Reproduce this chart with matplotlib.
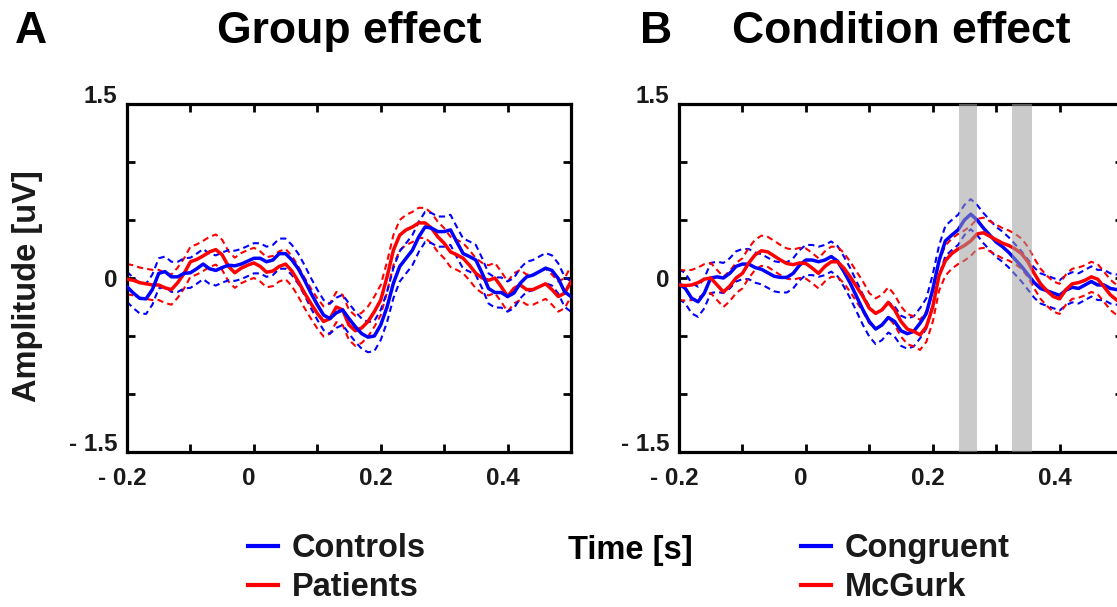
import numpy as np
import matplotlib.pyplot as plt
from matplotlib.transforms import ScaledTranslation

plt.rcParams['font.family'] = ['Liberation Sans', 'DejaVu Sans']
plt.rcParams['font.weight'] = 'bold'

# sample grid of the ERP curves (s)
time = np.linspace(-0.2, 0.5, 71)

# panel A: group effect (mean amplitude, uV)
controls = [-0.075, -0.13, -0.175, -0.18, -0.10, 0.04, 0.055, 0.01, 0.01, 0.04,
            0.045, 0.08, 0.12, 0.08, 0.065, 0.09, 0.11, 0.105, 0.12, 0.145,
            0.17, 0.17, 0.14, 0.155, 0.21, 0.21, 0.155, 0.08, -0.02, -0.13,
            -0.23, -0.32, -0.35, -0.30, -0.275, -0.35, -0.42, -0.48, -0.51, -0.50,
            -0.405, -0.25, -0.045, 0.10, 0.17, 0.24, 0.355, 0.44, 0.43, 0.40,
            0.40, 0.415, 0.31, 0.21, 0.185, 0.155, 0.04, -0.09, -0.125, -0.125,
            -0.16, -0.13, -0.045, 0.01, 0.025, 0.055, 0.085, 0.065, -0.005, -0.12,
            -0.16]
patients = [-0.01, -0.02, -0.04, -0.05, -0.06, -0.06, -0.085, -0.10, -0.04, 0.04,
            0.14, 0.16, 0.19, 0.225, 0.245, 0.20, 0.10, 0.045, 0.085, 0.11,
            0.13, 0.10, 0.05, 0.06, 0.10, 0.12, 0.06, -0.03, -0.13, -0.22,
            -0.305, -0.375, -0.35, -0.25, -0.275, -0.405, -0.455, -0.43, -0.375, -0.29,
            -0.19, 0.01, 0.24, 0.37, 0.415, 0.44, 0.475, 0.475, 0.43, 0.355,
            0.30, 0.225, 0.20, 0.17, 0.11, 0.04, 0.0, -0.02, 0.0, -0.075,
            -0.16, -0.09, -0.06, -0.10, -0.10, -0.075, -0.05, -0.10, -0.16, -0.13,
            -0.03]

# panel B: condition effect
congruent = [-0.05, -0.09, -0.175, -0.205, -0.13, 0.0, 0.01, 0.0, 0.04, 0.10,
             0.12, 0.12, 0.09, 0.075, 0.045, 0.015, 0.005, 0.005, 0.04, 0.11,
             0.155, 0.155, 0.14, 0.155, 0.185, 0.145, 0.055, -0.045, -0.16, -0.275,
             -0.375, -0.44, -0.405, -0.34, -0.375, -0.455, -0.48, -0.46, -0.39, -0.305,
             -0.10, 0.15, 0.32, 0.37, 0.415, 0.50, 0.55, 0.50, 0.43, 0.37,
             0.31, 0.27, 0.22, 0.16, 0.10, 0.03, -0.04, -0.09, -0.11, -0.13,
             -0.15, -0.105, -0.08, -0.09, -0.06, -0.03, -0.06, -0.06, -0.09, -0.10,
             -0.09]
mcgurk = [-0.06, -0.065, -0.06, -0.04, -0.01, 0.0, -0.06, -0.12, -0.07, 0.0,
          0.04, 0.13, 0.20, 0.235, 0.225, 0.19, 0.155, 0.125, 0.115, 0.13,
          0.125, 0.085, 0.04, 0.10, 0.14, 0.14, 0.085, 0.01, -0.075, -0.16,
          -0.26, -0.305, -0.275, -0.21, -0.275, -0.375, -0.44, -0.46, -0.49, -0.42,
          -0.25, 0.02, 0.15, 0.21, 0.25, 0.28, 0.32, 0.38, 0.39, 0.36,
          0.33, 0.30, 0.28, 0.25, 0.21, 0.14, 0.04, -0.05, -0.11, -0.16,
          -0.18, -0.10, -0.05, -0.04, -0.02, 0.01, -0.01, -0.075, -0.145, -0.19,
          -0.205]

# standard error half-widths (dashed bounds)
sem_controls = 0.13
sem_patients = 0.13
sem_congruent = 0.13
sem_mcgurk = 0.13

# significant windows in panel B (s)
sig_windows = [(0.242, 0.270), (0.325, 0.357)]

W, H = 1117, 607
fig = plt.figure(figsize=(W / 100, H / 100), dpi=100)
ink = '#1a1a1a'


def draw_series(ax, y, sem, color):
    y = np.array(y)
    line, = ax.plot(time, y, color=color, lw=2.5, zorder=3)
    for b in (y + sem, y - sem):
        ax.plot(time, b, color=color, lw=1.5, ls=(0, (3, 2)), zorder=2)
    return line


def setup_axes(left_px):
    ax = fig.add_axes([left_px / W, (H - 452) / H, 444 / W, 348 / H])
    ax.set_xlim(-0.2, 0.5)
    ax.set_ylim(-1.5, 1.5)
    ax.set_xticks([-0.2, 0, 0.2, 0.4], ['- 0.2', '0', '0.2', '0.4'])
    ax.set_xticks(np.arange(-0.1, 0.45, 0.2), minor=True)
    ax.set_yticks([-1.5, 0, 1.5], ['- 1.5', '0', '1.5'])
    ax.set_yticks([-1, -0.5, 0.5, 1], minor=True)
    ax.tick_params(which='both', direction='in', top=True, right=True,
                   length=6, width=2, labelsize=17.5, labelcolor=ink)
    ax.tick_params(axis='x', pad=11)
    ax.tick_params(axis='y', pad=7)
    for s in ax.spines.values():
        s.set_linewidth(2.3)
    shift_x = ScaledTranslation(-5 / 100, 0, fig.dpi_scale_trans)
    for lab in ax.get_xticklabels():
        lab.set_transform(lab.get_transform() + shift_x)
    shift_y = ScaledTranslation(0, 10 / 100, fig.dpi_scale_trans)
    labs = ax.get_yticklabels()
    for lab in (labs[0], labs[2]):
        lab.set_transform(lab.get_transform() + shift_y)
    return ax


# panel A
axA = setup_axes(127)
hp = draw_series(axA, patients, sem_patients, 'red')
hc = draw_series(axA, controls, sem_controls, 'blue')
axA.text(0.5, 1.175, 'Group effect', transform=axA.transAxes, ha='center',
         va='baseline', fontsize=32, color='black')

# panel B
axB = setup_axes(679)
hg = draw_series(axB, congruent, sem_congruent, 'blue')
hm = draw_series(axB, mcgurk, sem_mcgurk, 'red')
for x0, x1 in sig_windows:
    axB.axvspan(x0, x1, color='#a0a0a0', alpha=0.55, lw=0, zorder=5)
axB.text(0.5, 1.175, 'Condition effect', transform=axB.transAxes, ha='center',
         va='baseline', fontsize=32, color='black')

fig.text(15 / W, 1 - 43 / H, 'A', fontsize=32, va='baseline', ha='left')
fig.text(640 / W, 1 - 43 / H, 'B', fontsize=32, va='baseline', ha='left')
fig.text(28 / W, 1 - 286 / H, 'Amplitude [uV]', rotation=90, fontsize=23.5,
         ha='center', va='center', color=ink)
fig.text(630 / W, 1 - 551 / H, 'Time [s]', fontsize=23.5, ha='center',
         va='center', color='black')

leg_font = dict(size=23.5, weight='bold')
for handles, labels, x0 in (([hc, hp], ['Controls', 'Patients'], 248),
                            ([hg, hm], ['Congruent', 'McGurk'], 801)):
    leg = fig.legend(handles, labels, loc='upper left',
                     bbox_to_anchor=(x0 / W, 1 - 533 / H), frameon=False,
                     borderpad=0, borderaxespad=0, handlelength=0.92,
                     handletextpad=0.43, labelspacing=0.25, prop=leg_font)
    for t in leg.get_texts():
        t.set_color(ink)
    for l in leg.get_lines():
        l.set_linewidth(3)

fig.savefig('out.png', dpi=100)
